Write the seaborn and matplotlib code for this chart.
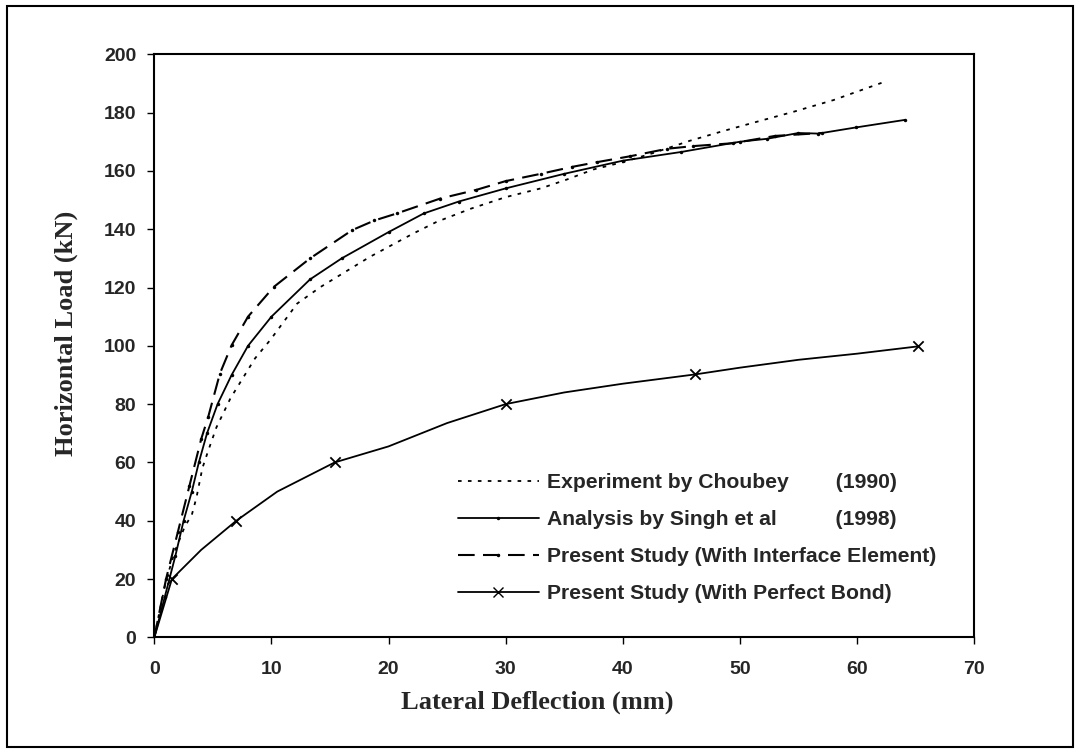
import pandas as pd
import seaborn as sns
import matplotlib.pyplot as plt
from matplotlib.patches import Rectangle

exp_x = [0, 0.4, 1.0, 1.8, 2.6, 3.2, 3.6, 4.1, 4.6, 5.3, 6.5, 8.6, 9.9, 12.2, 14.2,
         18.4, 22.1, 24.1, 27, 30, 33, 35.2, 37.5, 40, 42.5, 45.7, 48.6, 51.4, 54.6, 58, 62.1]
exp_y = [0, 8, 19.6, 30, 38, 42, 48, 58, 64, 72, 82, 95.7, 102, 114.5, 120.2,
         130.5, 138.5, 142.5, 147, 151, 154, 157, 160.5, 163, 166, 170.3, 173.7, 176.8, 180.3, 184.3, 190.2]

singh_x = [0, 0.9, 1.8, 2.5, 3.2, 3.8, 4.5, 5.4, 6.6, 8.0, 10.0, 13.3, 16.0, 20.0, 23.0,
           26.0, 30.0, 35.0, 40.0, 45.0, 50.0, 52.3, 55.0, 56.7, 59.9, 64.1]
singh_y = [0, 14, 28, 40, 50, 60, 70, 80, 90, 100, 110, 122.8, 130, 139, 145.4,
           149.5, 154, 159, 163.5, 166.5, 170, 171, 173, 172.8, 174.9, 177.5]

intf_x = [0, 1.0, 2.0, 3.0, 4.0, 4.6, 5.6, 6.6, 8.0, 10.2, 13.3, 16.9, 18.8, 20.7,
          24.4, 27.5, 30.0, 33.0, 35.7, 37.8, 40.6, 43.8, 46.0, 49.4, 53.0, 57.0]
intf_y = [0, 20, 36, 52, 68, 75.6, 90.5, 100.2, 110, 120.2, 130, 139.7, 143, 145.4,
          150.5, 153.5, 156.5, 159, 161.4, 163, 165, 167.6, 168.5, 169.5, 172, 173]

bond_x = [0, 1.5, 4.0, 7.0, 10.5, 15.4, 20.0, 25.0, 30.0, 35.0, 40.0, 46.2, 50.0, 55.0, 60.0, 65.2]
bond_y = [0, 20, 30, 40, 50, 60, 65.5, 73.5, 80, 84, 87, 90.2, 92.5, 95.2, 97.3, 99.8]
bond_mark_x = [1.5, 7.0, 15.4, 30.0, 46.2, 65.2]
bond_mark_y = [20, 40, 60, 80, 90.2, 99.8]

labels = ["Experiment by Choubey        (1990)",
          "Analysis by Singh et al          (1998)",
          "Present Study (With Interface Element)",
          "Present Study (With Perfect Bond)"]

sns.set_style("white")
plt.rcParams['font.family'] = ['Liberation Sans', 'DejaVu Sans']

fig = plt.figure(figsize=(10.8, 7.53), dpi=100)
ax = fig.add_axes([0.1429, 0.1536, 0.7590, 0.7743])

exp_df = pd.DataFrame({'x': exp_x, 'y': exp_y})
singh_df = pd.DataFrame({'x': singh_x, 'y': singh_y})
intf_df = pd.DataFrame({'x': intf_x, 'y': intf_y})
bond_df = pd.DataFrame({'x': bond_x, 'y': bond_y})
mark_df = pd.DataFrame({'x': bond_mark_x, 'y': bond_mark_y})

sns.lineplot(data=exp_df, x='x', y='y', ax=ax, sort=False, estimator=None,
             color='black', linewidth=1.3, linestyle=(0, (2, 3.5)))
sns.lineplot(data=singh_df, x='x', y='y', ax=ax, sort=False, estimator=None,
             color='black', linewidth=1.3, marker='o', markersize=2.5, markeredgewidth=0)
sns.lineplot(data=intf_df, x='x', y='y', ax=ax, sort=False, estimator=None,
             color='black', linewidth=1.5, linestyle=(0, (8, 4)),
             marker='o', markersize=2.5, markeredgewidth=0)
sns.lineplot(data=bond_df, x='x', y='y', ax=ax, sort=False, estimator=None,
             color='black', linewidth=1.3)
sns.scatterplot(data=mark_df, x='x', y='y', ax=ax, marker='x', s=55,
                color='black', linewidth=1.3, zorder=5)

# Legend handles
h1, = ax.plot([], [], color='black', linewidth=1.3, linestyle=(0, (2, 3.5)))
h2, = ax.plot([], [], color='black', linewidth=1.3, marker='o', markersize=2.5,
              markeredgewidth=0)
h3, = ax.plot([], [], color='black', linewidth=1.5, linestyle=(0, (8, 4)),
              marker='o', markersize=2.5, markeredgewidth=0)
h4, = ax.plot([], [], color='black', linewidth=1.3, marker='x', markersize=7)
leg = ax.legend([h1, h2, h3, h4], labels, loc='lower left',
                bbox_to_anchor=(0.37, 0.059), frameon=False, handlelength=3.85,
                handletextpad=0.4, labelspacing=0.85, borderpad=0, borderaxespad=0,
                prop={'family': 'Liberation Sans', 'weight': 'bold', 'size': 15.2})

ax.set_xlim(0, 70)
ax.set_ylim(0, 200)
ax.set_xticks(range(0, 71, 10))
ax.set_yticks(range(0, 201, 20))
ax.tick_params(axis='both', direction='out', length=5, width=1, color='black',
               labelsize=14, bottom=True, left=True)
ax.tick_params(axis='x', pad=12)
ax.tick_params(axis='y', pad=8)
for t in ax.get_xticklabels() + ax.get_yticklabels():
    t.set_fontweight('bold')
for s in ax.spines.values():
    s.set_visible(True)
    s.set_color('black')
    s.set_linewidth(1.5)

ax.set_xlabel("Lateral Deflection (mm)", fontsize=19, fontweight='bold',
              family='Liberation Serif')
ax.set_ylabel("Horizontal Load (kN)", fontsize=19, fontweight='bold',
              family='Liberation Serif')
ax.xaxis.label.set_va('center')
ax.yaxis.label.set_va('center')
ax.xaxis.set_label_coords(0.467, -0.111)
ax.yaxis.set_label_coords(-0.107, 0.522)

# Outer frame around the whole chart
fig.patches.append(Rectangle((7 / 1080, 6 / 753), 1066 / 1080, 741 / 753,
                             transform=fig.transFigure, fill=False,
                             edgecolor='black', linewidth=1.5))

plt.savefig("out.png", dpi=100)
